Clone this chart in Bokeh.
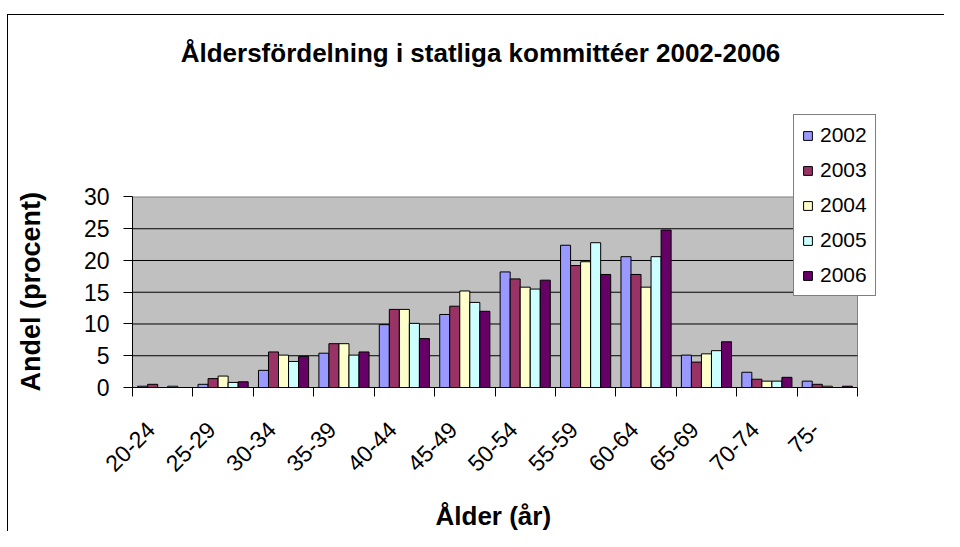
import math
import numpy as np
from bokeh.plotting import figure
from bokeh.models import FixedTicker, Range1d, Label, Title, LinearAxis
from bokeh.embed import file_html
from bokeh.resources import INLINE

title_text = "Åldersfördelning i statliga kommittéer 2002-2006"
x_title = "Ålder (år)"
y_title = "Andel (procent)"

categories = ["20-24", "25-29", "30-34", "35-39", "40-44", "45-49",
              "50-54", "55-59", "60-64", "65-69", "70-74", "75-"]
years = ["2002", "2003", "2004", "2005", "2006"]
v2002 = [0.2, 0.5, 2.7, 5.4, 9.9, 11.5, 18.2, 22.4, 20.6, 5.1, 2.4, 1.0]
v2003 = [0.5, 1.4, 5.6, 6.9, 12.3, 12.8, 17.1, 19.2, 17.8, 4.0, 1.3, 0.5]
v2004 = [0.0, 1.8, 5.1, 6.9, 12.3, 15.2, 15.8, 19.8, 15.8, 5.3, 1.0, 0.2]
v2005 = [0.2, 0.8, 4.1, 5.1, 10.1, 13.4, 15.5, 22.8, 20.6, 5.8, 1.0, 0.0]
v2006 = [0.0, 0.9, 4.9, 5.6, 7.7, 12.0, 16.9, 17.8, 24.8, 7.2, 1.6, 0.2]
series = [v2002, v2003, v2004, v2005, v2006]
colors = ["#9999FF", "#993366", "#FFFFCC", "#CCFFFF", "#660066"]
y_ticks = [0, 5, 10, 15, 20, 25, 30]

FONT = "Liberation Sans"
N = len(categories)
YMAX = y_ticks[-1]

# canvas at page (0,0); the chart's outer border is painted by the host background
W, H = 944, 531
BL = 132                     # frame left  -> x 132
FB = 388                     # frame bottom -> y 388
BB = H - FB
px_x = 725.0 / N             # pixels per category
px_y = 191.0 / YMAX          # pixels per percent
x_end = (W - BL) / px_x
y_end = FB / px_y

p = figure(width=W, height=H, x_range=Range1d(0, x_end), y_range=Range1d(0, y_end),
           output_backend="svg", toolbar_location=None, title_location=None,
           min_border_left=BL, min_border_right=0, min_border_top=0,
           min_border_bottom=BB)
p.styles = {
    "background-color": "#ffffff",
    "background-image": "linear-gradient(#000000, #000000), linear-gradient(#000000, #000000)",
    "background-size": "1px 100%, 100% 1px",
    "background-position": "7px 14px, 7px 14px",
    "background-repeat": "no-repeat",
}
p.background_fill_alpha = 0
p.border_fill_alpha = 0
p.outline_line_color = None
p.xgrid.visible = False
p.ygrid.visible = False

# plot area
p.quad(left=[0], right=[N], bottom=[y_ticks[0]], top=[YMAX],
       fill_color="#C0C0C0", line_color="#808080", line_width=1)
grid_vals = y_ticks[1:-1]
p.segment(x0=[0] * len(grid_vals), x1=[N] * len(grid_vals), y0=grid_vals, y1=grid_vals,
          line_color="black", line_width=1)

centers = np.arange(N) + 0.5
bw = 0.166
offsets = [-2 * bw, -bw, 0, bw, 2 * bw]
for vals, col, yr, off in zip(series, colors, years, offsets):
    p.vbar(x=centers + off, top=vals, width=bw, bottom=0, fill_color=col,
           line_color="black", line_width=1, legend_label=yr)

# y axis
ya = p.yaxis[0]
ya.bounds = (0, YMAX)
ya.ticker = FixedTicker(ticks=y_ticks)
ya.major_tick_in = 0
ya.major_tick_out = 9
ya.minor_tick_line_color = None
ya.minor_tick_out = 0
ya.axis_line_color = "black"
ya.major_label_text_font = FONT
ya.major_label_text_font_size = "23px"
ya.major_label_text_color = "black"
ya.major_label_standoff = 14

# x axis
xa = p.xaxis[0]
xa.bounds = (0, N)
label_pos = centers - 0.2
xa.ticker = FixedTicker(ticks=list(label_pos), minor_ticks=list(range(N + 1)))
xa.major_label_overrides = {float(c): lab for c, lab in zip(label_pos, categories)}
xa.major_tick_line_color = None
xa.major_tick_out = 9
xa.minor_tick_in = 0
xa.minor_tick_out = 9
xa.minor_tick_line_color = "black"
xa.axis_line_color = "black"
xa.major_label_orientation = math.pi / 4
xa.major_label_text_font = FONT
xa.major_label_text_font_size = "23px"
xa.major_label_text_color = "black"
xa.major_label_standoff = 29


def spacer(gap):
    # an invisible axis whose only job is to reserve `gap` pixels in a side panel
    return LinearAxis(ticker=FixedTicker(ticks=[0]), major_label_overrides={0: ""},
                      major_label_text_font_size="1px", major_label_standoff=0,
                      axis_line_color=None, major_tick_line_color=None,
                      minor_tick_line_color=None, major_tick_out=gap,
                      major_tick_in=0, minor_tick_out=0, minor_tick_in=0)


p.add_layout(spacer(34), "left")
p.add_layout(Title(text=y_title, align="left", offset=-4, standoff=0,
                   vertical_align="middle", text_font=FONT, text_font_size="27px",
                   text_font_style="bold", text_color="black"), "left")
p.add_layout(spacer(17), "below")
p.add_layout(Title(text=x_title, align="left", offset=303, standoff=0,
                   vertical_align="middle", text_font=FONT, text_font_size="26px",
                   text_font_style="bold", text_color="black"), "below")

# chart title (frame-relative screen units)
p.add_layout(Label(x=348, y=335, x_units="screen", y_units="screen", text=title_text,
                   text_align="center", text_baseline="middle", text_font=FONT,
                   text_font_size="26px", text_font_style="bold", text_color="black"))

lg = p.legend[0]
lg.location = (661, 91)
lg.label_text_font = FONT
lg.label_text_font_size = "21px"
lg.label_text_color = "black"
lg.glyph_width = 11
lg.glyph_height = 11
lg.label_standoff = 7
lg.padding = 8
lg.spacing = 11
lg.margin = 0
lg.border_line_color = "black"
lg.border_line_width = 1
lg.background_fill_color = "white"
lg.background_fill_alpha = 1

open("out.html", "w").write(file_html(p, INLINE))
